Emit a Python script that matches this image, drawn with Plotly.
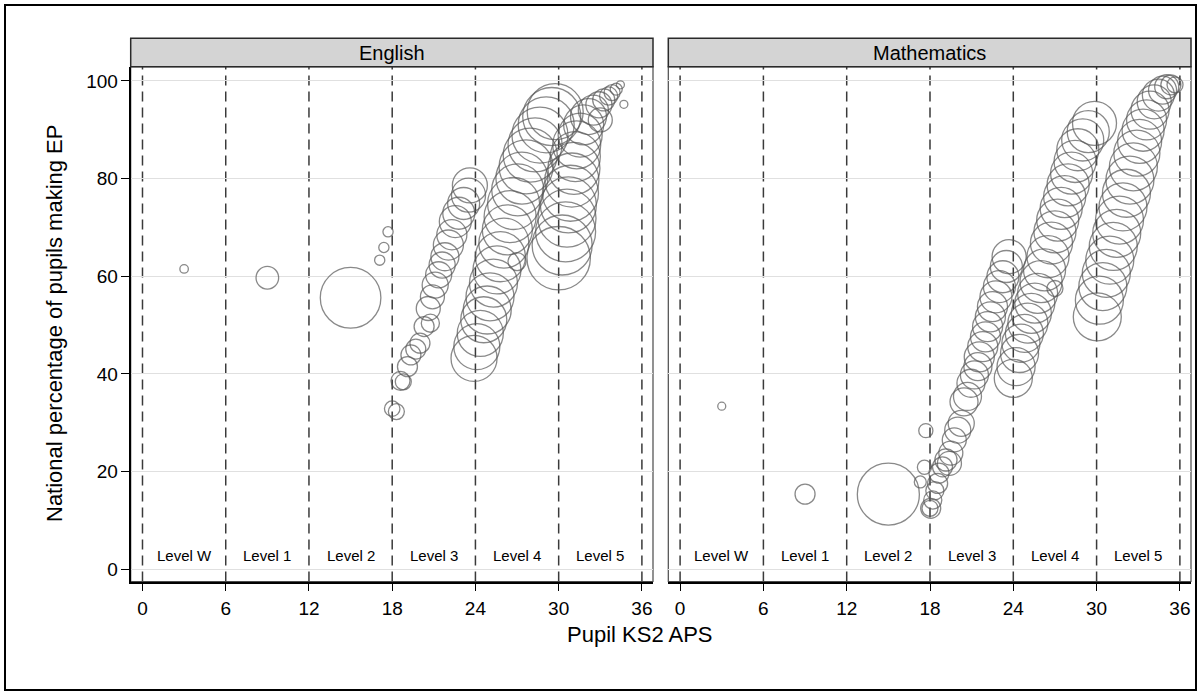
import plotly.graph_objects as go

# ---------------- data ----------------
subjects = ["English", "Mathematics"]
level_labels = ["Level W", "Level 1", "Level 2", "Level 3", "Level 4", "Level 5"]
level_mid = [3, 9, 15, 21, 27, 33]
level_bounds = [0, 6, 12, 18, 24, 30, 36]
x_ticks = [0, 6, 12, 18, 24, 30, 36]
y_ticks = [0, 20, 40, 60, 80, 100]

# English: pupil KS2 APS, national % making expected progress, pupils (thousands)
eng_aps = [3.0, 9.0, 15.0, 17.1, 17.4, 17.7,
           18.0, 18.3, 18.6, 18.8, 19.1, 19.35, 19.7, 20.0, 20.3, 20.75, 20.6, 20.9, 21.1, 21.35,
           21.6, 21.8, 22.05, 22.3, 22.55, 22.8, 23.15, 23.5, 23.6,
           23.9, 24.1, 24.35, 24.6, 24.85, 25.05, 25.3, 25.55, 27.0, 25.8, 26.05, 26.3, 26.5,
           26.75, 27.05, 27.35, 27.65, 27.95, 28.3, 28.65, 29.1, 29.5, 29.75,
           30.0, 30.25, 30.5, 30.6, 30.7, 30.85, 30.95, 31.1, 31.2, 31.3, 31.55, 31.8, 32.15,
           32.5, 33.0, 32.9, 33.25, 33.6, 33.85, 34.15, 34.45, 34.7]
eng_pct = [61.5, 59.7, 55.6, 63.3, 65.9, 69.1,
           32.9, 32.3, 38.6, 38.4, 41.5, 43.9, 45.1, 46.3, 49.7, 50.4, 53.4, 55.8, 58.2, 60.3,
           62.3, 64.0, 66.4, 68.5, 71.2, 72.9, 74.9, 76.6, 78.6,
           43.2, 45.6, 48.3, 51.1, 53.1, 55.8, 58.6, 61.3, 63.0, 64.0, 66.8, 69.5, 72.2,
           74.9, 77.7, 80.1, 82.4, 84.8, 86.9, 88.9, 91.0, 92.7, 93.7,
           63.7, 66.4, 69.1, 71.9, 74.6, 77.0, 79.7, 82.1, 84.5, 86.9, 88.9, 91.0, 92.7,
           94.0, 92.0, 95.1, 96.1, 96.9, 97.6, 98.3, 99.2, 95.2]
eng_pupils = [0.9, 6.4, 45.9, 1.3, 1.3, 1.3,
              3.0, 3.2, 4.5, 3.2, 5.0, 5.0, 5.0, 5.0, 5.0, 4.1, 7.2, 7.2, 8.5, 8.5,
              8.5, 9.8, 11.3, 11.3, 12.8, 12.8, 12.8, 14.5, 15.3,
              26.5, 26.5, 26.5, 26.5, 28.8, 28.8, 28.8, 28.8, 4.1, 31.3, 31.3, 31.3, 33.8,
              33.8, 33.8, 33.8, 36.5, 36.5, 36.5, 39.2, 39.2, 42.1, 39.2,
              50.2, 45.0, 45.0, 42.1, 39.2, 39.2, 36.5, 33.8, 31.3, 28.8, 24.2, 20.0, 16.2,
              11.3, 7.2, 8.5, 6.1, 4.1, 3.2, 1.8, 0.8, 0.8]

# Mathematics
math_aps = [3.0, 9.0, 15.0, 17.3, 17.6, 17.7, 18.0,
            18.05, 18.2, 18.35, 18.55, 18.65, 18.9, 19.15, 19.4, 19.5, 19.75, 20.0, 20.25,
            20.45, 20.7, 20.95, 21.2, 21.45, 21.55, 21.8, 22.0, 22.15, 22.35, 22.5, 22.75,
            23.0, 23.25, 23.5, 23.7,
            24.0, 24.2, 24.45, 24.55, 24.8, 25.05, 25.3, 25.55, 25.75, 27.0, 26.0, 26.25,
            26.5, 26.75, 27.0, 27.2, 27.45, 27.7, 27.95, 28.2, 28.45, 28.65, 29.0, 29.4, 29.85,
            30.05, 30.2, 30.45, 30.7, 30.95, 31.2, 31.45, 31.65, 31.9, 32.15, 32.4, 32.65,
            32.9, 33.1, 33.35, 33.6, 33.85, 34.15, 34.45, 34.75, 35.05, 35.35, 35.65]
math_pct = [33.4, 15.4, 15.4, 17.9, 20.9, 28.4, 12.5,
            12.5, 14.2, 16.1, 17.6, 19.7, 21.0, 22.4, 21.7, 23.8, 26.5, 28.5, 29.9,
            34.3, 35.4, 38.1, 39.8, 41.5, 43.5, 45.6, 47.6, 49.7, 51.7, 53.8, 55.8,
            57.9, 59.9, 62.0, 64.0,
            39.1, 41.5, 44.2, 46.3, 48.3, 50.4, 52.4, 54.5, 56.5, 57.5, 58.9, 61.3,
            64.0, 66.8, 69.1, 71.5, 73.9, 76.3, 78.7, 81.1, 83.5, 85.9, 87.9, 89.6, 91.3,
            51.7, 55.1, 57.9, 60.6, 63.3, 66.1, 68.8, 71.5, 74.2, 77.0, 79.7, 82.4,
            85.2, 87.6, 89.9, 92.0, 94.0, 95.7, 97.1, 98.1, 98.8, 99.2, 99.2]
math_pupils = [0.8, 5.0, 48.1, 1.8, 2.5, 2.5, 3.2,
               5.0, 4.1, 4.1, 5.0, 5.0, 5.0, 6.1, 7.2, 7.2, 7.2, 8.5, 8.5,
               9.8, 9.8, 9.8, 9.8, 9.8, 11.3, 11.3, 11.3, 11.3, 11.3, 11.3, 12.8,
               12.8, 12.8, 12.8, 14.5,
               18.1, 18.1, 18.1, 18.1, 18.1, 20.0, 20.0, 20.0, 20.0, 3.2, 22.1, 22.1,
               22.1, 22.1, 22.1, 22.1, 22.1, 22.1, 22.1, 22.1, 22.1, 22.1, 22.1, 22.1, 24.2,
               28.8, 28.8, 28.8, 28.8, 28.8, 28.8, 28.8, 28.8, 28.8, 28.8, 28.8, 28.8,
               26.5, 24.2, 22.1, 20.0, 18.1, 14.5, 12.8, 9.8, 7.2, 5.0, 3.2]

x_title = "Pupil KS2 APS"
y_title = "National percentage of pupils making EP"

# ---------------- figure ----------------
W, H = 1201, 695
FONT = "Arial, Liberation Sans, sans-serif"
BUB = "#585858"

def px_x(p):
    return p / W

def px_y(p):
    return 1 - p / H

fig = go.Figure()
for xs, ys, ns, xa, ya in [(eng_aps, eng_pct, eng_pupils, "x", "y"),
                           (math_aps, math_pct, math_pupils, "x2", "y2")]:
    fig.add_trace(go.Scatter(
        x=xs, y=ys, mode="markers", xaxis=xa, yaxis=ya,
        marker=dict(size=ns, sizemode="area", sizeref=0.025, symbol="circle",
                    color="rgba(0,0,0,0)", line=dict(color=BUB, width=1.3)),
        hoverinfo="x+y", showlegend=False))

xr = [-0.85, 36.8]
yr = [-2.48, 102.9]
ydom = [px_y(581.5), px_y(66.7)]
xdoms = [[px_x(130.7), px_x(653)], [px_x(668.3), px_x(1191)]]

common_x = dict(range=xr, tickvals=x_ticks, ticks="outside", ticklen=7, tickwidth=1.2,
                tickcolor="black", showline=True, linecolor="black", linewidth=2,
                showgrid=False, zeroline=False, fixedrange=True, ticklabelstandoff=2,
                tickfont=dict(family=FONT, size=19, color="black"))
fig.update_layout(
    width=W, height=H, margin=dict(l=0, r=0, t=0, b=0),
    paper_bgcolor="white", plot_bgcolor="white", showlegend=False,
    xaxis=dict(domain=xdoms[0], anchor="y", **common_x),
    xaxis2=dict(domain=xdoms[1], anchor="y2", **common_x),
    yaxis=dict(domain=ydom, anchor="x", range=yr, tickvals=y_ticks, ticks="outside",
               ticklen=8, tickwidth=1.2, tickcolor="black", showline=True,
               linecolor="black", linewidth=2, showgrid=True, gridcolor="#e0e0e0",
               gridwidth=1, zeroline=False, fixedrange=True, ticklabelstandoff=-1,
               tickfont=dict(family=FONT, size=19, color="black")),
    yaxis2=dict(domain=ydom, anchor="x2", range=yr, tickvals=y_ticks, showticklabels=False,
                ticks="", showline=False, showgrid=True, gridcolor="#e0e0e0", gridwidth=1,
                zeroline=False, fixedrange=True),
)

shapes = []
annotations = []
for i, name in enumerate(subjects):
    xa = "x" if i == 0 else "x2"
    ya = "y" if i == 0 else "y2"
    # panel frame
    shapes.append(dict(type="rect", xref=f"{xa} domain", yref=f"{ya} domain",
                       x0=0, x1=1, y0=0, y1=1, line=dict(color="#4a4a4a", width=1.2),
                       layer="below"))
    # header strip
    shapes.append(dict(type="rect", xref=f"{xa} domain", yref="paper",
                       x0=0, x1=1, y0=px_y(66.7), y1=px_y(38.3),
                       fillcolor="#d4d4d4", line=dict(color="#2a2a2a", width=1.5)))
    annotations.append(dict(text=name, xref=f"{xa} domain", yref="paper", x=0.5,
                            y=px_y(53), showarrow=False,
                            font=dict(family=FONT, size=20, color="black"),
                            xanchor="center", yanchor="middle"))
    # level boundaries
    for b in level_bounds:
        shapes.append(dict(type="line", xref=xa, yref=f"{ya} domain", x0=b, x1=b,
                           y0=0, y1=1, line=dict(color="#3a3a3a", width=1.5, dash="10px,6px"),
                           layer="below"))
    for lab, m in zip(level_labels, level_mid):
        annotations.append(dict(text=lab, xref=xa, yref=ya, x=m, y=2.9, showarrow=False,
                                font=dict(family=FONT, size=15, color="black"),
                                xanchor="center", yanchor="middle"))

# outer border
shapes.append(dict(type="rect", xref="paper", yref="paper", x0=px_x(5), x1=px_x(1196),
                   y0=px_y(690), y1=px_y(5), line=dict(color="black", width=2)))

annotations.append(dict(text=y_title, xref="paper", yref="paper", x=px_x(54), y=px_y(324),
                        textangle=-90, showarrow=False, xanchor="center", yanchor="middle",
                        font=dict(family=FONT, size=22, color="black")))
annotations.append(dict(text=x_title, xref="paper", yref="paper", x=px_x(640), y=px_y(634),
                        showarrow=False, xanchor="center", yanchor="middle",
                        font=dict(family=FONT, size=22, color="black")))

fig.update_layout(shapes=shapes, annotations=annotations)
fig.write_html("out.html", config={"displayModeBar": False},
               post_script="document.body.style.margin='0';document.body.style.padding='0';"
                           "document.body.style.overflow='hidden';")
